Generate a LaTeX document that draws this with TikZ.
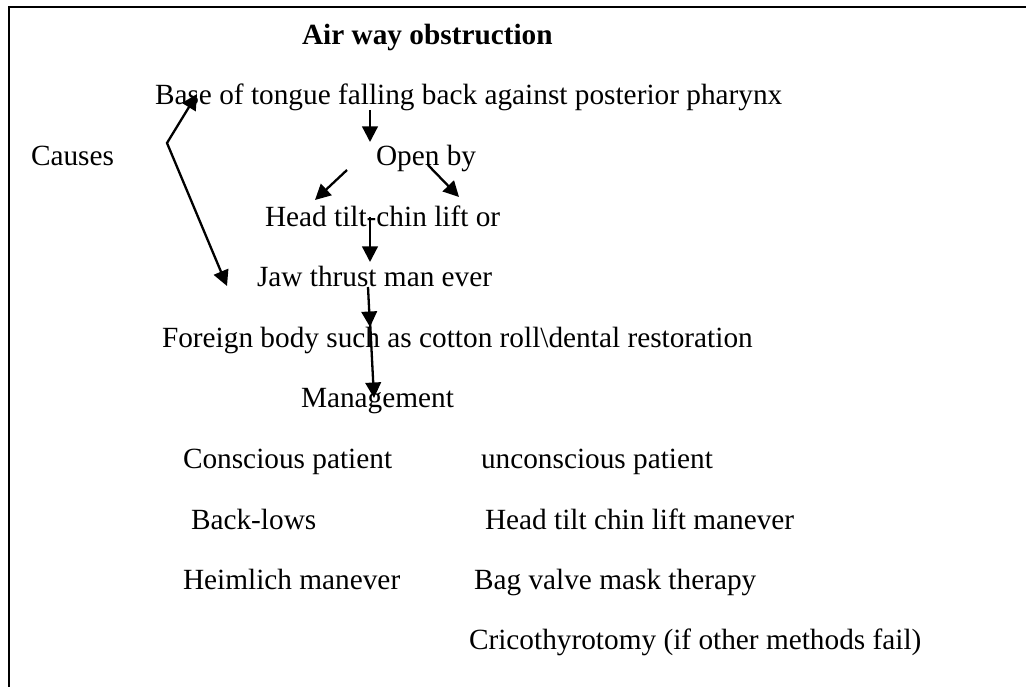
\documentclass[tikz,border=0pt]{standalone}
\usepackage{fontspec}
\setmainfont{Liberation Serif}
\usetikzlibrary{arrows.meta}
\tikzset{
  txt/.style={anchor=base west, inner sep=0pt, outer sep=0pt, font=\fontsize{29.3}{35}\selectfont},
  ttl/.style={txt, font=\fontsize{29.3}{35}\selectfont\bfseries},
  arr/.style={line width=2.3pt, -{Triangle[length=15.5pt,width=15.5pt]}},
  arrb/.style={line width=2.3pt, {Triangle[length=15.5pt,width=15.5pt]}-{Triangle[length=15.5pt,width=15.5pt]}},
  frame/.style={line width=2pt}
}
\begin{document}
\begin{tikzpicture}[x=1pt,y=-1pt]
\useasboundingbox (0,0) rectangle (1026,687);
\fill[white] (0,0) rectangle (1026,687);
% frame (top and left edges)
\coordinate (fbl) at (9,687);
\coordinate (ftl) at (9,7);
\coordinate (ftr) at (1026,7);
\draw[frame] (fbl) -- (ftl) -- (ftr);
% texts
\node[ttl] (title) at (302,44.5) {Air way obstruction};
\node[txt] (base) at (155,105) {Base of tongue falling back against posterior pharynx};
\node[txt] (causes) at (31,166) {Causes};
\node[txt] (open) at (376,166) {Open by};
\node[txt] (head) at (265,227) {Head tilt-chin lift or};
\node[txt] (jaw) at (257,287) {Jaw thrust man ever};
\node[txt] (foreign) at (162,347) {Foreign body such as cotton roll\textbackslash dental restoration};
\node[txt] (mgmt) at (301,407.5) {Management};
\node[txt] (consc) at (183,468) {Conscious patient};
\node[txt] (uncon) at (481,468) {unconscious patient};
\node[txt] (back) at (191,529) {Back-lows};
\node[txt] (htcl) at (485,529) {Head tilt chin lift manever};
\node[txt] (heim) at (183,589) {Heimlich manever};
\node[txt] (bag) at (474,589) {Bag valve mask therapy};
\node[txt] (crico) at (469,649) {Cricothyrotomy (if other methods fail)};
% connector points
\coordinate (cA) at (197,94);
\coordinate (cV) at (167,143);
\coordinate (cB) at (227,286);
\coordinate (b1) at (370,110);
\coordinate (b2) at (370,142);
\coordinate (o1) at (347,170);
\coordinate (o2) at (315,200);
\coordinate (o3) at (428,165);
\coordinate (o4) at (459,197);
\coordinate (h1) at (370,217);
\coordinate (h2) at (370,262);
\coordinate (j1) at (368,287);
\coordinate (j2) at (370,327);
\coordinate (f1) at (370,320);
\coordinate (f2) at (374,398);
% connectors
\draw[arrb] (cA) -- (cV) -- (cB);
\draw[arr] (b1) -- (b2);
\draw[arr] (o1) -- (o2);
\draw[arr] (o3) -- (o4);
\draw[arr] (h1) -- (h2);
\draw[arr] (j1) -- (j2);
\draw[arr] (f1) -- (f2);
\end{tikzpicture}
\end{document}
